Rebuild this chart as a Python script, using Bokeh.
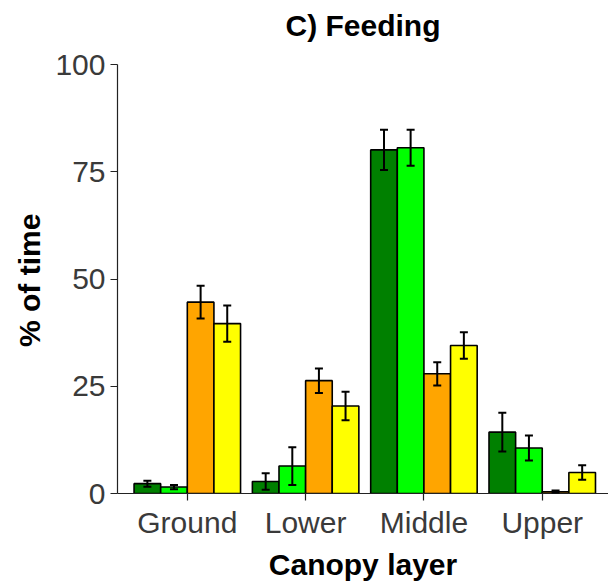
from bokeh.plotting import figure
from bokeh.models import ColumnDataSource, Range1d, Whisker, TeeHead, FixedTicker, Label
from bokeh.transform import dodge
from bokeh.embed import file_html
from bokeh.resources import INLINE

# ---- data ----
categories = ["Ground", "Lower", "Middle", "Upper"]
dark_green = [2.3, 2.8, 80.1, 14.3]
dark_green_err = [0.7, 1.9, 4.7, 4.5]
light_green = [1.5, 6.4, 80.6, 10.6]
light_green_err = [0.5, 4.4, 4.2, 2.9]
orange = [44.6, 26.3, 27.9, 0.4]
orange_err = [3.8, 2.85, 2.7, 0.3]
yellow = [39.6, 20.4, 34.5, 4.9]
yellow_err = [4.2, 3.3, 3.1, 1.7]
y_ticks = [0, 25, 50, 75, 100]

series = [
    (dark_green, dark_green_err, "#008000"),
    (light_green, light_green_err, "#00FF00"),
    (orange, orange_err, "#FFA500"),
    (yellow, yellow_err, "#FFFF00"),
]

FONT = "Liberation Sans"

# frame spans the full top of the canvas; y axis line is bounded to 0..100
x_start, x_end = 0.41, 4.56
y_top = 114.92
p = figure(width=608, height=587, output_backend="svg", toolbar_location=None,
           title=None,
           x_range=Range1d(x_start, x_end), y_range=Range1d(0, y_top),
           min_border_left=117, min_border_right=0, min_border_top=0,
           min_border_bottom=94)

xs = list(range(1, len(categories) + 1))
bar_w = 0.225
n = len(series)
for i, (vals, errs, color) in enumerate(series):
    off = (i - (n - 1) / 2) * bar_w
    src = ColumnDataSource(dict(
        x=xs, top=vals,
        upper=[v + e for v, e in zip(vals, errs)],
        lower=[v - e for v, e in zip(vals, errs)],
    ))
    p.vbar(x=dodge("x", off), top="top", bottom=0, width=bar_w, source=src,
           fill_color=color, line_color="black", line_width=1.6)
    w = Whisker(base=dodge("x", off), upper="upper", lower="lower", source=src,
                line_color="black", line_width=2, level="overlay",
                upper_head=TeeHead(size=8, line_color="black", line_width=2),
                lower_head=TeeHead(size=8, line_color="black", line_width=2))
    p.add_layout(w)

# title drawn inside the (extended) frame, above the 100 mark
title = Label(x=(x_start + x_end) / 2, y=109.1, text="C) Feeding",
              text_align="center", text_baseline="alphabetic",
              text_font=FONT, text_font_size="30px", text_font_style="bold",
              text_color="black")
p.add_layout(title)

p.outline_line_color = None
p.xgrid.visible = False
p.ygrid.visible = False
p.background_fill_color = "white"
p.border_fill_color = "white"

# axes
p.xaxis.ticker = FixedTicker(ticks=xs)
p.xaxis.major_label_overrides = {x: c for x, c in zip(xs, categories)}
p.yaxis.ticker = FixedTicker(ticks=y_ticks)
p.yaxis.bounds = (0, 100)
p.xaxis.minor_tick_line_color = None
p.yaxis.minor_tick_line_color = None
for ax in (p.xaxis, p.yaxis):
    ax.axis_line_color = "#222222"
    ax.axis_line_width = 1.2
    ax.major_tick_line_color = "#222222"
    ax.major_tick_line_width = 1.2
    ax.major_tick_out = 7
    ax.major_tick_in = 0
    ax.major_label_text_font = FONT
    ax.major_label_text_font_size = "30px"
    ax.major_label_text_color = "#3A3A3A"
    ax.axis_label_text_font = FONT
    ax.axis_label_text_font_size = "30px"
    ax.axis_label_text_font_style = "bold"
    ax.axis_label_text_color = "black"
    ax.major_label_standoff = 5
    ax.axis_label_standoff = 6

p.xaxis.axis_label = "Canopy layer"
# trailing no-break spaces re-centre the rotated label on the 0..100 axis span
p.yaxis.axis_label = "% of time" + "\u00a0" * 8

open("out.html", "w").write(file_html(p, INLINE))
